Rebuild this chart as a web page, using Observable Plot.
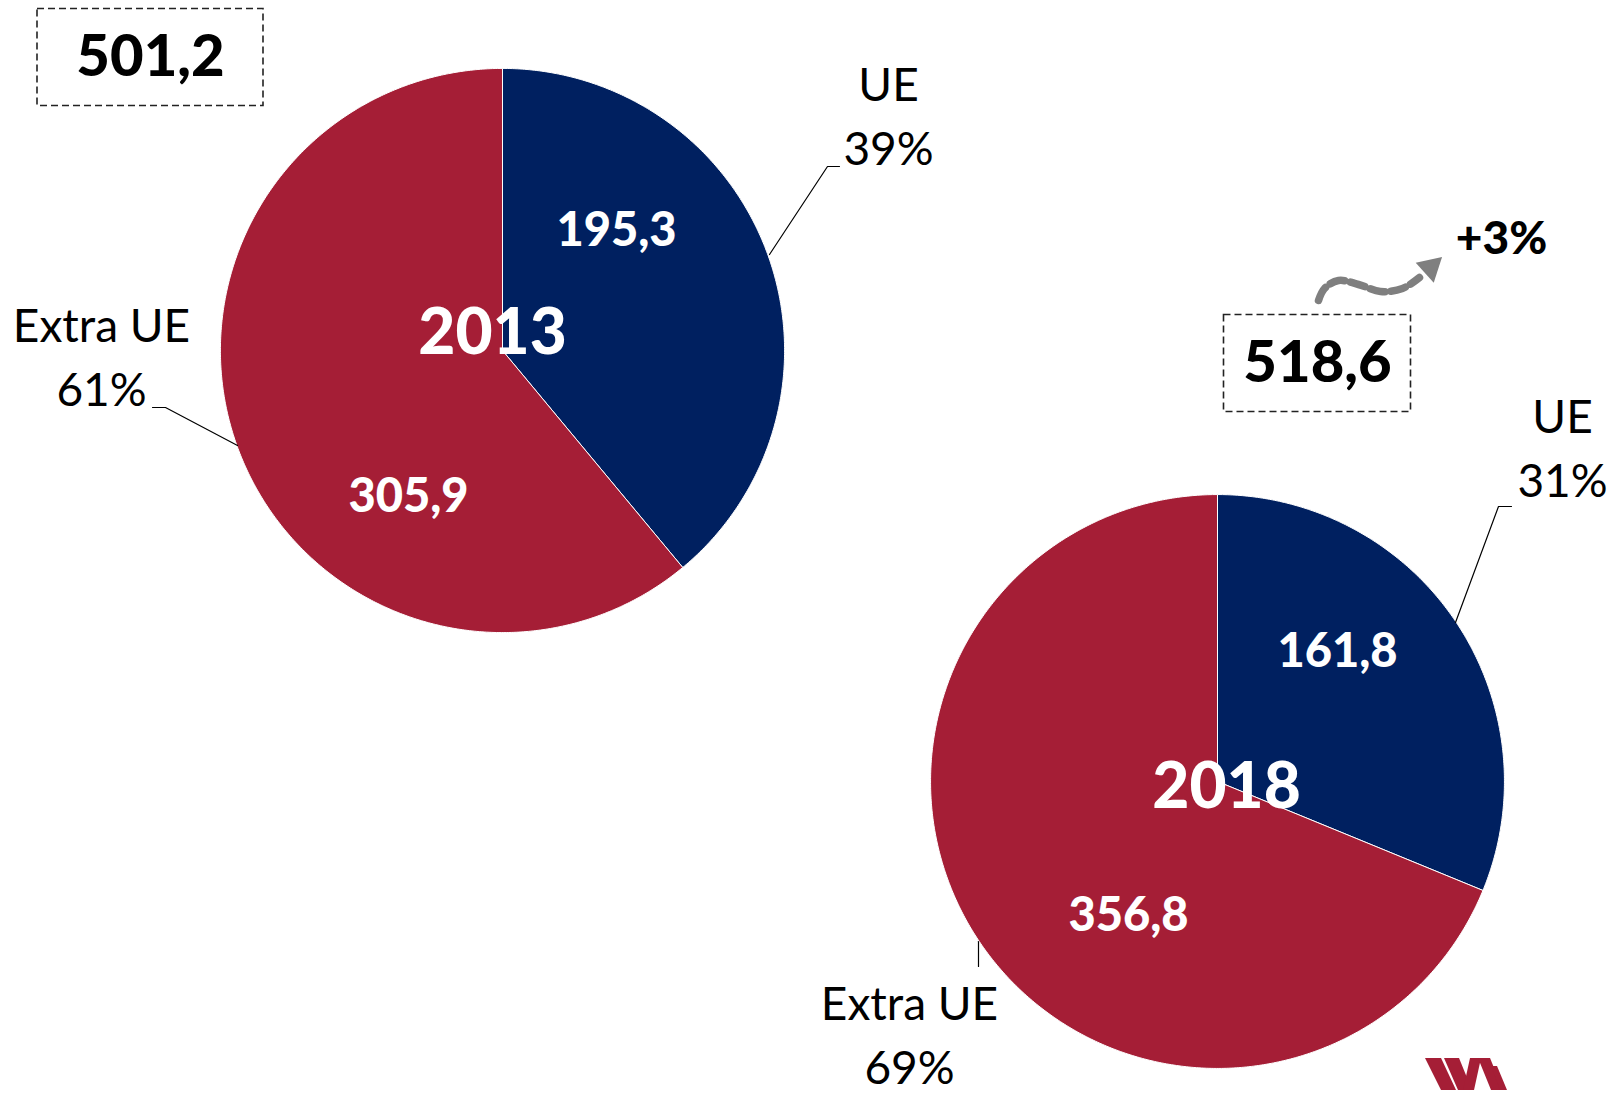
<!DOCTYPE html>
<html>
<head>
<meta charset="utf-8">
<script src="https://cdn.jsdelivr.net/npm/d3@7"></script>
<script src="https://cdn.jsdelivr.net/npm/@observablehq/plot@0.6"></script>
<style>
  html, body { margin: 0; padding: 0; background: #fff; }
  #chart { position: relative; width: 1620px; height: 1094px; overflow: hidden; }
  #logo { position: absolute; left: 0; top: 0; pointer-events: none; }
</style>
</head>
<body>
<div id="chart"></div>
<script>
// ---------- DATA ----------
const years = ["2013", "2018"];
const categories = ["UE", "Extra UE"];
const ueValues = [195.3, 161.8];
const extraUeValues = [305.9, 356.8];
const totals = [501.2, 518.6];
const sliceColors = ["#002060", "#A51E36"];

// ---------- LAYOUT (positions only) ----------
const W = 1620, H = 1094;
const layout = {
  centers: [[502, 350], [1217, 781]],
  radiusPerSqrt: 12.6,
  valueLabels: [[[616, 230], [408, 496]], [[1337, 651], [1128, 915]]],
  yearLabels: [[492, 333], [1226, 787]],
  catLabels: [[[888, 112], [101, 353]], [[1562, 444], [909, 1031]]],
  leaders: [
    [[[769, 254], [827, 166], [839, 166]], [[152, 407], [165, 407], [237, 445]]],
    [[[1511, 506], [1498, 506], [1455, 622]], [[978, 941], [978, 966]]]
  ],
  totalBoxes: [{cx: 150, cy: 57, w: 226, h: 97}, {cx: 1317, cy: 363, w: 187, h: 97}],
  growth: [1501, 239],
  arrow: [[1318, 300], [1324, 288], [1338, 280], [1358, 284], [1380, 291], [1402, 288], [1419, 277]],
  arrowHead: {x: 1430, y: 267, rotate: 48}
};

const fmt = v => v.toFixed(1).replace(".", ",");
const pct = (v, t) => Math.round(v / t * 100) + "%";

// ---------- build pie polygons ----------
const slicePts = [];
const valueLabels = [], catLabels = [], leaderPts = [];
years.forEach((yr, i) => {
  const [cx, cy] = layout.centers[i];
  const r = layout.radiusPerSqrt * Math.sqrt(totals[i]);
  const vals = [ueValues[i], extraUeValues[i]];
  let a0 = 0;
  vals.forEach((v, j) => {
    const a1 = a0 + v / totals[i] * 2 * Math.PI;
    const key = yr + "-" + j;
    slicePts.push({key, x: cx, y: cy, fill: sliceColors[j]});
    const steps = Math.max(2, Math.ceil((a1 - a0) / (Math.PI / 360)));
    for (let k = 0; k <= steps; k++) {
      const a = a0 + (a1 - a0) * k / steps;
      slicePts.push({key, x: cx + r * Math.sin(a), y: cy - r * Math.cos(a), fill: sliceColors[j]});
    }
    slicePts.push({key, x: cx, y: cy, fill: sliceColors[j]});
    a0 = a1;
    const [vx, vy] = layout.valueLabels[i][j];
    valueLabels.push({x: vx, y: vy, text: fmt(v)});
    const [lx, ly] = layout.catLabels[i][j];
    catLabels.push({x: lx, y: ly, text: categories[j] + "\n" + pct(v, totals[i])});
    layout.leaders[i][j].forEach(([px, py]) => leaderPts.push({key: key, x: px, y: py}));
  });
});

const yearLabels = years.map((yr, i) => ({x: layout.yearLabels[i][0], y: layout.yearLabels[i][1], text: yr}));
const boxes = totals.map((t, i) => {
  const b = layout.totalBoxes[i];
  return {x1: b.cx - b.w / 2, x2: b.cx + b.w / 2, y1: b.cy - b.h / 2, y2: b.cy + b.h / 2, cx: b.cx, cy: b.cy, text: fmt(t)};
});
const growthText = "+" + Math.round((totals[1] / totals[0] - 1) * 100) + "%";
const arrowPts = layout.arrow.map(([x, y]) => ({x, y}));

const font = "Lato, 'Open Sans', 'DejaVu Sans', sans-serif";

const chart = Plot.plot({
  width: W, height: H, margin: 0,
  x: {domain: [0, W], range: [0, W], axis: null},
  y: {domain: [0, H], range: [0, H], axis: null},
  color: {type: "identity"},
  style: {fontFamily: font, background: "white", overflow: "visible"},
  marks: [
    Plot.line(slicePts, {x: "x", y: "y", z: "key", fill: "fill", stroke: "white", strokeWidth: 1, curve: "linear"}),
    Plot.line(leaderPts, {x: "x", y: "y", z: "key", stroke: "black", strokeWidth: 1.2}),
    Plot.rect(boxes, {x1: "x1", x2: "x2", y1: "y1", y2: "y2", fill: "none", stroke: "#222", strokeWidth: 1.6, strokeDasharray: "7,4"}),
    Plot.text(boxes, {x: "cx", y: "cy", text: "text", fontSize: 58, fontWeight: 900, fill: "black", lineAnchor: "middle"}),
    Plot.text(valueLabels, {x: "x", y: "y", text: "text", fontSize: 47, fontWeight: 900, fill: "white", lineAnchor: "middle"}),
    Plot.text(yearLabels, {x: "x", y: "y", text: "text", fontSize: 64, fontWeight: 900, fill: "white", lineAnchor: "middle"}),
    Plot.text(catLabels, {x: "x", y: "y", text: "text", fontSize: 46, fill: "black", lineAnchor: "middle", lineHeight: 1.38}),
    Plot.line(arrowPts, {x: "x", y: "y", stroke: "#7f7f7f", strokeWidth: 7.5, strokeDasharray: "15,6", curve: "catmull-rom"}),
    Plot.dot([layout.arrowHead], {x: "x", y: "y", symbol: "triangle", r: 10, fill: "#7f7f7f", stroke: "none", rotate: "rotate"}),
    Plot.text([{x: layout.growth[0], y: layout.growth[1], text: growthText}], {x: "x", y: "y", text: "text", fontSize: 46, fontWeight: 900, fill: "black", lineAnchor: "middle"})
  ]
});
const host = document.getElementById("chart");
host.appendChild(chart);

// decorative logo (bottom right)
const ns = "http://www.w3.org/2000/svg";
const logo = document.createElementNS(ns, "svg");
logo.setAttribute("id", "logo");
logo.setAttribute("width", W); logo.setAttribute("height", H);
const polys = [
  "1425,1058 1441,1058 1456,1090 1441,1090",
  "1444,1058 1459,1058 1472,1090 1458,1090",
  "1470,1058 1481,1058 1474,1090 1463,1090",
  "1478,1058 1490,1058 1503,1090 1491,1090",
  "1491,1066 1497,1066 1507,1090 1500,1090"
];
polys.forEach(p => {
  const el = document.createElementNS(ns, "polygon");
  el.setAttribute("points", p);
  el.setAttribute("fill", "#A51E36");
  logo.appendChild(el);
});
host.appendChild(logo);
</script>
</body>
</html>
